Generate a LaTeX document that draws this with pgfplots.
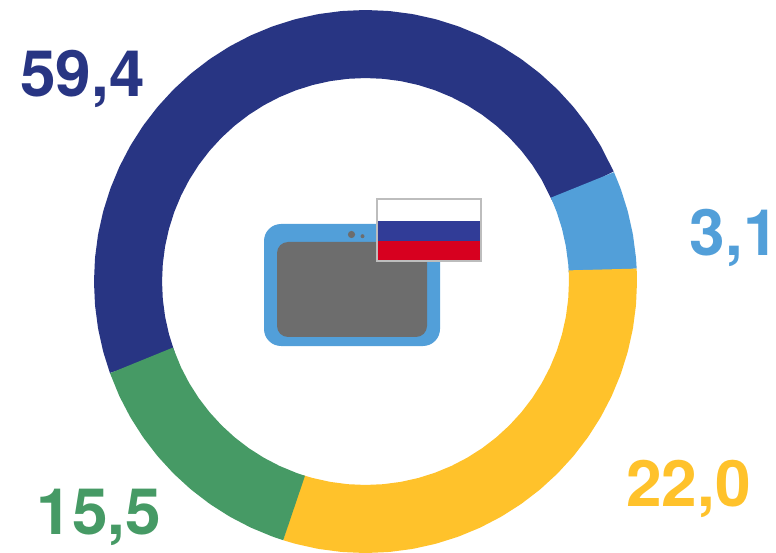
\documentclass[border=0pt]{standalone}
\usepackage{fontspec}
\setmainfont{TeX Gyre Heros}
\usepackage{pgfplots}
\pgfplotsset{compat=1.18}
\usepgfplotslibrary{polar}
\definecolor{navy}{HTML}{283583}
\definecolor{lblue}{HTML}{529FD9}
\definecolor{gold}{HTML}{FFC22B}
\definecolor{leaf}{HTML}{469A65}
\definecolor{screen}{HTML}{6D6D6D}
\definecolor{flagblue}{HTML}{313C97}
\definecolor{flagred}{HTML}{D7001F}
\definecolor{flagedge}{HTML}{BDBDBD}
\begin{document}
\begin{tikzpicture}[x=1pt,y=1pt]
\useasboundingbox (0,0) rectangle (776,552);
\begin{polaraxis}[
  at={(365.5pt,270.5pt)}, anchor=center,
  scale only axis, width=544pt, height=544pt,
  xmin=0, xmax=360, ymin=0, ymax=272,
  hide axis, clip=false,
  every axis plot/.append style={line width=68pt, line cap=butt, line join=round, no markers},
]
\addplot[navy] coordinates {(23.5,237.5)(30,237.5)(35,237.5)(40,237.5)(45,237.5)(50,237.5)(55,237.5)(60,237.5)(65,237.5)(70,237.5)(75,237.5)(80,237.5)(85,237.5)(90,237.5)(95,237.5)(100,237.5)(105,237.5)(110,237.5)(115,237.5)(120,237.5)(125,237.5)(130,237.5)(135,237.5)(140,237.5)(145,237.5)(150,237.5)(155,237.5)(160,237.5)(165,237.5)(170,237.5)(175,237.5)(180,237.5)(185,237.5)(190,237.5)(195,237.5)(200,237.5)};
\addplot[lblue] coordinates {(2.6,237.5)(5,237.5)(10,237.5)(15,237.5)(20,237.5)(24,237.5)};
\addplot[gold] coordinates {(252.2,237.5)(255,237.5)(260,237.5)(265,237.5)(270,237.5)(275,237.5)(280,237.5)(285,237.5)(290,237.5)(295,237.5)(300,237.5)(305,237.5)(310,237.5)(315,237.5)(320,237.5)(325,237.5)(330,237.5)(335,237.5)(340,237.5)(345,237.5)(350,237.5)(355,237.5)(360,237.5)(362.9,237.5)};
\addplot[leaf] coordinates {(199.4,237.5)(205,237.5)(210,237.5)(215,237.5)(220,237.5)(225,237.5)(230,237.5)(235,237.5)(240,237.5)(245,237.5)(250,237.5)(252.5,237.5)};
\end{polaraxis}
\begin{scope}[shift={(0,552)},x=1pt,y=-1pt]
  \fill[lblue, rounded corners=17pt] (264,224) rectangle (440,346);
  \fill[screen, rounded corners=11pt] (277,242) rectangle (427,337);
  \fill[screen] (351.5,234.5) circle (3.6pt);
  \fill[screen] (362.5,236.2) circle (2pt);
  \fill[white] (376.5,199) rectangle (481,221);
  \fill[flagblue] (376.5,221) rectangle (481,241.5);
  \fill[flagred] (376.5,241.5) rectangle (481,261.5);
  \draw[flagedge, line width=2pt] (376.5,199) rectangle (481,261.5);
  \def\lab#1#2#3#4{\node[anchor=base west, inner sep=0pt, text=#3, font=\fontsize{64}{64}\selectfont\bfseries] at (#1,#2) {#4};}
  \lab{20}{97}{navy}{59,4}
  \lab{689.5}{256}{lblue}{3,1\kern-4pt}
  \lab{626}{506}{gold}{22,0}
  \lab{36.5}{534}{leaf}{15,5}
\end{scope}
\end{tikzpicture}
\end{document}
